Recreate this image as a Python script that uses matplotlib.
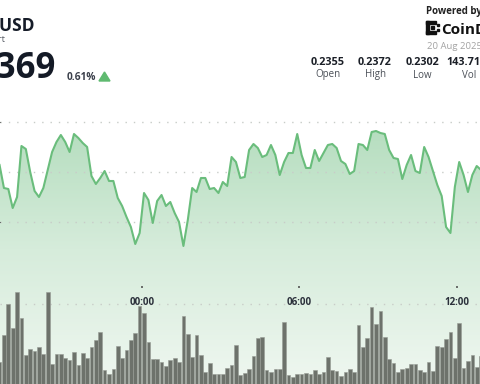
import matplotlib

matplotlib.use("Agg")
import matplotlib.pyplot as plt  # noqa: E402
import matplotlib.transforms as mtransforms  # noqa: E402
import matplotlib.dates as mdates  # noqa: E402
import numpy as np  # noqa: E402
import pandas as pd  # noqa: E402
from matplotlib.colors import LinearSegmentedColormap  # noqa: E402
from matplotlib.patches import Polygon, Rectangle  # noqa: E402

W, H = 480, 384

# HBAR/USD, 10-minute steps, 19-20 Aug 2025 (visible window only)
start = "2025-08-19 18:35"
price = [
    0.23535, 0.2342, 0.23415, 0.2332, 0.23375, 0.2363, 0.23615, 0.2350, 0.23405, 0.23375,
    0.2342, 0.2351, 0.2360, 0.2365, 0.23685, 0.2365, 0.2360, 0.2369, 0.2367, 0.23645,
    0.23625, 0.2348, 0.2344, 0.2347, 0.23505, 0.23455, 0.23455, 0.2337, 0.2333, 0.23275,
    0.23225, 0.2314, 0.23195, 0.23395, 0.2336, 0.23245, 0.23355, 0.23385, 0.2333, 0.2335,
    0.23295, 0.2325, 0.2313, 0.2326, 0.2342, 0.2340, 0.2347, 0.2347, 0.23415, 0.2342,
    0.23395, 0.2345, 0.2343, 0.23575, 0.2355, 0.2347,
    0.23475, 0.2361, 0.2364, 0.2362, 0.23575, 0.23585, 0.23635, 0.23585, 0.23485, 0.2355,
    0.23595, 0.23595, 0.2369, 0.23585, 0.2352, 0.2352, 0.2361, 0.23555, 0.23595, 0.23635,
    0.2364, 0.2362, 0.23555, 0.2354, 0.2349, 0.23505, 0.2364, 0.23635, 0.2361, 0.2370,
    0.23705, 0.23695, 0.2369, 0.2361, 0.2357, 0.23565, 0.23465, 0.23535, 0.23585, 0.23505,
    0.23495, 0.23625, 0.23575, 0.23505, 0.23435, 0.2338, 0.23225, 0.23195, 0.23425, 0.2355,
    0.23485, 0.2340, 0.23485, 0.2353, 0.2351,
]
volume = [
    22, 49, 80, 56, 92, 66, 29, 35, 33, 37, 30, 92, 20, 30, 30, 26, 24, 32, 19, 31,
    26, 37, 44, 52, 14, 10, 15, 38, 26, 34, 44, 51, 78, 71, 42, 25, 25, 22, 18, 24,
    26, 22, 68, 50, 27, 49, 29, 12, 21, 10, 10, 10, 16, 19, 39, 9,
    11, 15, 28, 46, 47, 14, 12, 15, 15, 62, 9, 7, 10, 10, 11, 10, 14, 10, 12, 27,
    14, 13, 8, 12, 15, 12, 59, 37, 46, 77, 60, 73, 47, 25, 21, 12, 15, 16, 20, 20,
    14, 12, 22, 13, 38, 37, 45, 52, 26, 61, 16, 23, 29, 17, 28,
]
stat_values = ["0.2355", "0.2372", "0.2302", "143.71M"]
stat_labels = ["Open", "High", "Low", "Vol"]
price_grid = [0.2325, 0.2350, 0.2375]
volume_grid = [80]

times = pd.date_range(start, periods=len(price), freq="10min")
hour_ticks = pd.date_range("2025-08-20 00:00", periods=3, freq="6h")

FONT = "Open Sans"
LINE_GREEN = "#6abd7c"
BAR_GRAY = "#6d726b"

fig = plt.figure(figsize=(W / 100, H / 100), dpi=100)
fig.patch.set_facecolor("white")

# pixel coordinates (top-left origin) -> figure
px = mtransforms.Affine2D().scale(1 / W, -1 / H).translate(0, 1) + fig.transFigure

# ---- price area ----
ax = fig.add_axes([0, 0, 1, 1])
x0 = pd.Timestamp("2025-08-19 18:36")
x1 = pd.Timestamp("2025-08-20 12:52:30")
ax.set_xlim(x0, x1)
ax.set_ylim(0.2244, 0.2436)

poly = ax.fill_between(times, price, 0.2244, color="none", lw=0)
grad_cmap = LinearSegmentedColormap.from_list(
    "fade", [(0.0, "#ffffff"), (0.3, "#b2dcbc"), (0.65, "#d6ecdb"), (1.0, "#eff7f0")]
)
grad = np.linspace(0, 1, 256).reshape(-1, 1)
img = ax.imshow(
    grad,
    cmap=grad_cmap,
    aspect="auto",
    origin="upper",
    extent=[mdates.date2num(x0), mdates.date2num(x1), 0.2244, 0.2436],
    zorder=1,
)
img.set_clip_path(poly.get_paths()[0], transform=ax.transData)
ax.set_xlim(x0, x1)
ax.set_ylim(0.2244, 0.2436)

ax.plot(times, price, color=LINE_GREEN, lw=1.5, zorder=3, solid_joinstyle="round")

ax.set_yticks(price_grid)
ax.set_axisbelow("line")
ax.yaxis.grid(True, color="#c8ccc8", linestyle=(0, (1, 5)), lw=1)
ax.tick_params(left=False, bottom=False, labelleft=False, labelbottom=False)
for s in ax.spines.values():
    s.set_visible(False)

# ---- volume bars ----
axv = ax.twinx()
axv.set_ylim(0, H)
axv.bar(times, volume, width=8.4 / 1440, color=BAR_GRAY,
        edgecolor="#979c95", lw=0.4, zorder=2)
axv.set_yticks(volume_grid)
axv.set_axisbelow(True)
axv.yaxis.grid(True, color="#c8ccc8", linestyle=(0, (1, 5)), lw=1)
axv.tick_params(right=False, labelright=False)
for s in axv.spines.values():
    s.set_visible(False)
axv.patch.set_alpha(0)

# ---- time axis ----
axt = fig.add_axes([0, (H - 286) / H, 1, 1e-4], sharex=ax)
axt.patch.set_alpha(0)
for s in axt.spines.values():
    s.set_visible(False)
axt.set_yticks([])
axt.set_xticks(hour_ticks)
axt.set_xticklabels(hour_ticks.strftime("%H:%M"), fontweight="bold",
                    fontsize=7, family=FONT, color="#2b303b")
axt.tick_params(axis="x", length=1.2, width=1.2, color="#555555", pad=7)
axt.set_xlim(x0, x1)

# ---- header ----
fig.text(35, 31, "HBAR/USD", transform=px, ha="right", va="baseline",
         fontsize=12.5, fontweight="bold", family=FONT, color="#161c28")
fig.text(5, 42, "Price Chart", transform=px, ha="right", va="baseline",
         fontsize=6.5, family=FONT, color="#555a63")
fig.text(56, 78, "0.2369", transform=px, ha="right", va="baseline",
         fontsize=25, fontweight="bold", family=FONT, color="#141a26")
fig.text(67, 80, "0.61%", transform=px, ha="left", va="baseline",
         fontsize=7.3, fontweight="bold", family=FONT, color="#3a3f4a")
fig.patches.append(Polygon([[99, 81], [110, 81], [104.5, 72]], closed=True,
                           transform=px, color="#5fba70"))

fig.text(426, 14, "Powered by", transform=px, ha="left", va="baseline",
         fontsize=7, fontweight="bold", family=FONT, color="#222222")
logo = [(426, 21, 3, 13), (426, 21, 10, 3), (426, 31, 10, 3),
        (431, 26, 2.5, 2.5), (436.5, 23.5, 2.5, 2.5), (436.5, 28.5, 2.5, 2.5)]
for lx, ly, lw_, lh in logo:
    fig.patches.append(Rectangle((lx, ly), lw_, lh, transform=px, color="#111111"))
fig.text(441, 33.5, "CoinDesk", transform=px, ha="left", va="baseline",
         fontsize=11, fontweight="bold", family=FONT, color="#111111")
fig.text(427, 49, "20 Aug 2025", transform=px, ha="left", va="baseline",
         fontsize=6.8, family=FONT, color="#a3a3a3")

for i, (v, lab) in enumerate(zip(stat_values, stat_labels)):
    cx = 328 + 47 * i
    fig.text(cx, 65, v, transform=px, ha="center", va="baseline",
             fontsize=7.8, fontweight="bold", family=FONT, color="#1b1f27")
    fig.text(cx, 77.5, lab, transform=px, ha="center", va="baseline",
             fontsize=7, family=FONT, color="#4a4f57")

fig.savefig("out.png", dpi=100)
